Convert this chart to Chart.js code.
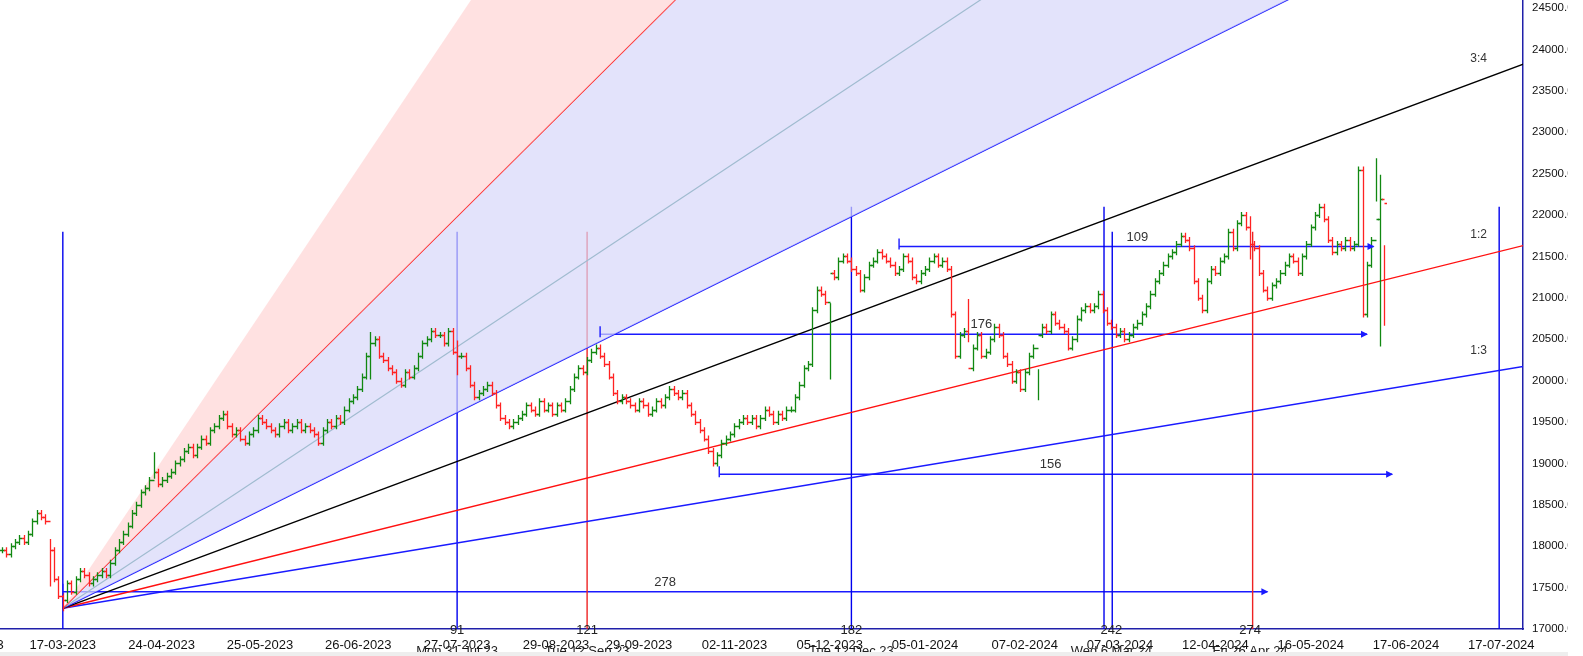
<!DOCTYPE html>
<html><head><meta charset="utf-8">
<script src="https://cdn.jsdelivr.net/npm/chart.js@4.4.1/dist/chart.umd.min.js"></script>
<style>html,body{margin:0;padding:0;background:#fff;overflow:hidden}#wrap{width:1568px;height:656px}</style>
</head><body><div id="wrap"><canvas id="c"></canvas></div>
<script>
// trading-day index of first bar (17-03-2023 = day 0)
const firstDay = -14;
const closes = [17950,17900,18000,18050,18100,18050,18150,18300,18400,18350,18300,17950,17600,17400,
17350,17550,17450,17600,17700,17650,17550,17600,17650,17700,17650,17800,17950,18050,18150,18250,18400,18500,18650,18700,18800,18900,18750,18800,18850,
18900,19000,19050,19150,19200,19100,19200,19300,19250,19400,19450,19550,19600,19450,19350,19400,19300,19250,19350,19400,19550,19500,
19450,19400,19350,19450,19500,19400,19450,19500,19400,19450,19400,19350,19250,19400,19500,19450,19550,19500,19650,19750,19800,19900,
20050,20300,20450,20500,20300,20250,20150,20100,20000,19950,20100,20050,20150,20300,20450,20500,20600,20550,20550,20450,20600,20350,20300,
20300,20150,19950,19800,19850,19900,19950,19850,19700,19550,19500,19450,19500,19550,19600,19700,19650,19600,19750,19650,19700,19600,19700,19650,19750,19900,20050,20150,20100,20250,20350,20400,20300,
20200,20050,19850,19750,19800,19750,19700,19650,19750,19700,19600,19650,19750,19700,19800,19900,19850,19800,19850,19700,19600,19500,19400,19300,19150,19000,19100,19250,19300,19350,19450,19500,19550,19500,19550,19450,19550,19650,19600,19500,19600,19550,19650,19650,19800,19950,20150,20200,
20850,21100,21050,20950,21300,21250,21450,21500,21450,21350,21300,21100,21250,21400,21450,21550,21500,21450,21400,21300,21350,21500,21450,21250,21200,21300,21350,21450,21500,
21400,21450,21350,20800,20300,20550,20600,20150,20400,20550,20300,20350,20500,20650,20550,20300,20200,20000,20100,19900,20100,20300,20400,20550,20650,20600,20800,20700,20650,20600,20400,20500,20750,20850,20900,20850,20900,21050,20850,20700,20650,20550,20600,20500,20550,20650,20700,20800,20900,21050,21200,21300,21400,21500,21550,21650,21750,21700,21600,21200,21000,20850,21200,21350,21300,21450,21500,21800,21600,21900,22000,21850,21650,21600,21300,21100,21000,21150,21200,21300,21400,21500,21450,21300,
21500,21650,21850,22000,22100,21950,21700,21550,21650,21600,21700,21600,21650,22550,20800,21400,21700,21950,22200,22150];
// explicit extremes for the large-range bars: [dayIndex, high, low]
const wideBars = [[-3,18050,17550],[0,17400,17250],[21,19100,18850],[71,20550,20050],[91,20450,20100],[177,20900,20050],[209,20950,20500],[225,20100,19800],[274,21950,21500],[303,22650,22200],[304,22450,20450],[305,21600,20700]];
const gannBase = {day:0, price:17250};
const gannSlopes = {"3:1":78,"2:1":52,"4:3":34.7,"1:1":26,"3:4":19.5,"1:2":13,"1:3":8.67};
const xTickDays = [-14.5,0,22.8,45.5,68.2,91,113.8,133,155,177,199,222,244,266,288,310,332];
const xTickLabels = ["3","17-03-2023","24-04-2023","25-05-2023","26-06-2023","27-07-2023","29-08-2023","29-09-2023","02-11-2023","05-12-2023","05-01-2024","07-02-2024","07-03-2024","12-04-2024","16-05-2024","17-06-2024","17-07-2024"];
const yTicks = [17000,17500,18000,18500,19000,19500,20000,20500,21000,21500,22000,22500,23000,23500,24000,24500];
const vLines = [[0,21800,"#0000ee"],[91,21800,"#0000ee"],[121,21800,"#ee2222"],[182,22100,"#0000ee"],[240.3,22100,"#0000ee"],[242.2,21800,"#0000ee"],[274.6,21800,"#ee2222"],[331.5,22100,"#0000ee"]];
const vLineLabels = [[91,"91","Mon 31 Jul 23"],[121,"121","Tue 12 Sep 23"],[182,"182","Tue 12 Dec 23"],[242,"242","Wed 6 Mar 24"],[274,"274","Fri 26 Apr 24"]];
const hArrows = [[0,278,17450,"278",139],[151.5,306.8,18870,"156",228],[124,301,20560,"176",212],[193,302.5,21620,"109",248]];

const XMIN=-14.5, XMAX=337, FANEND=340, YMIN=17000, YMAX=24598;
function fan(k){return [{x:gannBase.day,y:gannBase.price},{x:FANEND,y:gannBase.price+gannSlopes[k]*FANEND}];}
const ds=[];
ds.push({data:fan("3:1"),borderWidth:0,borderColor:'rgba(0,0,0,0)',fill:'+1',backgroundColor:'rgba(255,215,215,0.75)'});
ds.push({data:fan("2:1"),borderWidth:1.2,borderColor:'#ff1010',fill:'+2',backgroundColor:'rgba(215,215,250,0.7)'});
ds.push({data:fan("4:3"),borderWidth:1.2,borderColor:'#1f7a6e',fill:false});
ds.push({data:fan("1:1"),borderWidth:1.4,borderColor:'#1a1aff',fill:false});
ds.push({data:fan("3:4"),borderWidth:1.4,borderColor:'#000000',fill:false});
ds.push({data:fan("1:2"),borderWidth:1.4,borderColor:'#ff1010',fill:false});
ds.push({data:fan("1:3"),borderWidth:1.4,borderColor:'#1a1aff',fill:false});
vLines.forEach(v=>ds.push({data:[{x:v[0],y:17000},{x:v[0],y:v[1]}],borderWidth:1.4,borderColor:v[2],fill:false}));
hArrows.forEach(h=>ds.push({data:[{x:h[0],y:h[2]},{x:h[1],y:h[2]}],borderWidth:1.4,borderColor:'#1a1aff',fill:false}));
ds.forEach(d=>{d.type='line';d.pointRadius=0;d.tension=0;});

const ohlc={id:'ohlc',afterDatasetsDraw(ch){
  const c=ch.ctx,xs=ch.scales.x,ys=ch.scales.y,a=ch.chartArea;
  c.save();c.beginPath();c.rect(a.left,a.top,a.right-a.left,a.bottom-a.top);c.clip();
  const wide={};wideBars.forEach(w=>wide[w[0]]=w);
  c.lineWidth=1.3;
  for(let i=0;i<closes.length;i++){
    const d=firstDay+i, cl=closes[i], op=i>0?closes[i-1]:cl;
    let hi=Math.max(op,cl),lo=Math.min(op,cl);
    if(wide[d]){hi=wide[d][1];lo=wide[d][2];}
    const x=Math.round(xs.getPixelForValue(d))+0.5;
    c.strokeStyle=cl>=op?'#118811':'#ff2222';
    c.beginPath();
    c.moveTo(x,ys.getPixelForValue(hi)-3);c.lineTo(x,ys.getPixelForValue(lo)+3);
    const yo=Math.round(ys.getPixelForValue(op))+0.5,yc=Math.round(ys.getPixelForValue(cl))+0.5;
    c.moveTo(x-2.5,yo);c.lineTo(x,yo);c.moveTo(x,yc);c.lineTo(x+2.5,yc);
    c.stroke();
  }
  c.fillStyle='#1a1aff';c.strokeStyle='#1a1aff';c.lineWidth=1.4;
  hArrows.forEach(h=>{
    const x0=xs.getPixelForValue(h[0]),x1=xs.getPixelForValue(h[1]),y=ys.getPixelForValue(h[2]);
    c.beginPath();c.moveTo(x0,y+3);c.lineTo(x0,y-8);c.stroke();
    c.beginPath();c.moveTo(x1+1,y);c.lineTo(x1-6,y-3.5);c.lineTo(x1-6,y+3.5);c.closePath();c.fill();
    c.fillStyle='#333';c.font='13px "Liberation Sans", Arial';c.textAlign='center';c.textBaseline='bottom';
    c.fillText(h[3],xs.getPixelForValue(h[4]),y-3);c.fillStyle='#1a1aff';
  });
  c.fillStyle='#333';c.font='12px "Liberation Sans", Arial';c.textAlign='right';c.textBaseline='bottom';
  [["3:4",65],["1:2",241],["1:3",357]].forEach(t=>c.fillText(t[0],1487,t[1]));
  c.restore();
  c.save();c.fillStyle='#222';c.font='13px "Liberation Sans", Arial';c.textAlign='center';
  c.textBaseline='middle';
  vLineLabels.forEach(v=>{const x=xs.getPixelForValue(v[0]);c.fillText(v[1],x,630);c.fillText(v[2],x,651);});
  // y-axis tick labels (drawn here so they are not clipped by the narrow axis box)
  c.fillStyle='#111';c.font='11.5px "Liberation Sans", Arial';c.textAlign='left';
  yTicks.forEach(v=>c.fillText(v.toFixed(2),a.right+9,Math.max(7,ys.getPixelForValue(v))));
  c.restore();
}};
const bg={id:'bg',beforeDraw(ch){const c=ch.ctx;c.save();c.fillStyle='#fff';c.fillRect(0,0,ch.width,ch.height);c.restore();},
  afterDraw(ch){const c=ch.ctx;c.save();c.fillStyle='#eeeeee';c.fillRect(0,652,ch.width,4);c.restore();}};

new Chart(document.getElementById('c'),{
  data:{datasets:ds},
  plugins:[bg,ohlc],
  options:{responsive:true,maintainAspectRatio:false,animation:false,
    layout:{padding:{top:0,left:0,right:0,bottom:0}},
    plugins:{legend:{display:false},tooltip:{enabled:false}},
    scales:{
      x:{type:'linear',min:XMIN,max:XMAX,
        afterBuildTicks(s){s.ticks=xTickDays.map(v=>({value:v}));},
        afterFit(s){s.paddingLeft=0;s.paddingRight=0;s.height=27;},
        ticks:{autoSkip:false,maxRotation:0,color:'#111',font:{family:'"Liberation Sans", Arial',size:13},padding:4,
          callback:(v,i)=>xTickLabels[i]},
        grid:{display:false,drawTicks:true,tickLength:5,tickColor:'#2020aa'},
        border:{color:'#2020aa',width:1.5}},
      y:{type:'linear',position:'right',min:YMIN,max:YMAX,
        afterBuildTicks(s){s.ticks=yTicks.map(v=>({value:v}));},
        afterFit(s){s.width=45;s.paddingTop=0;s.paddingBottom=0;},
        ticks:{color:'rgba(0,0,0,0)',font:{family:'"Liberation Sans", Arial',size:11.5},padding:2,callback:v=>''},
        grid:{display:false,drawTicks:true,tickLength:6,tickColor:'#2020aa'},
        border:{color:'#2020aa',width:1.5}}
    }}
});
</script></body></html>
